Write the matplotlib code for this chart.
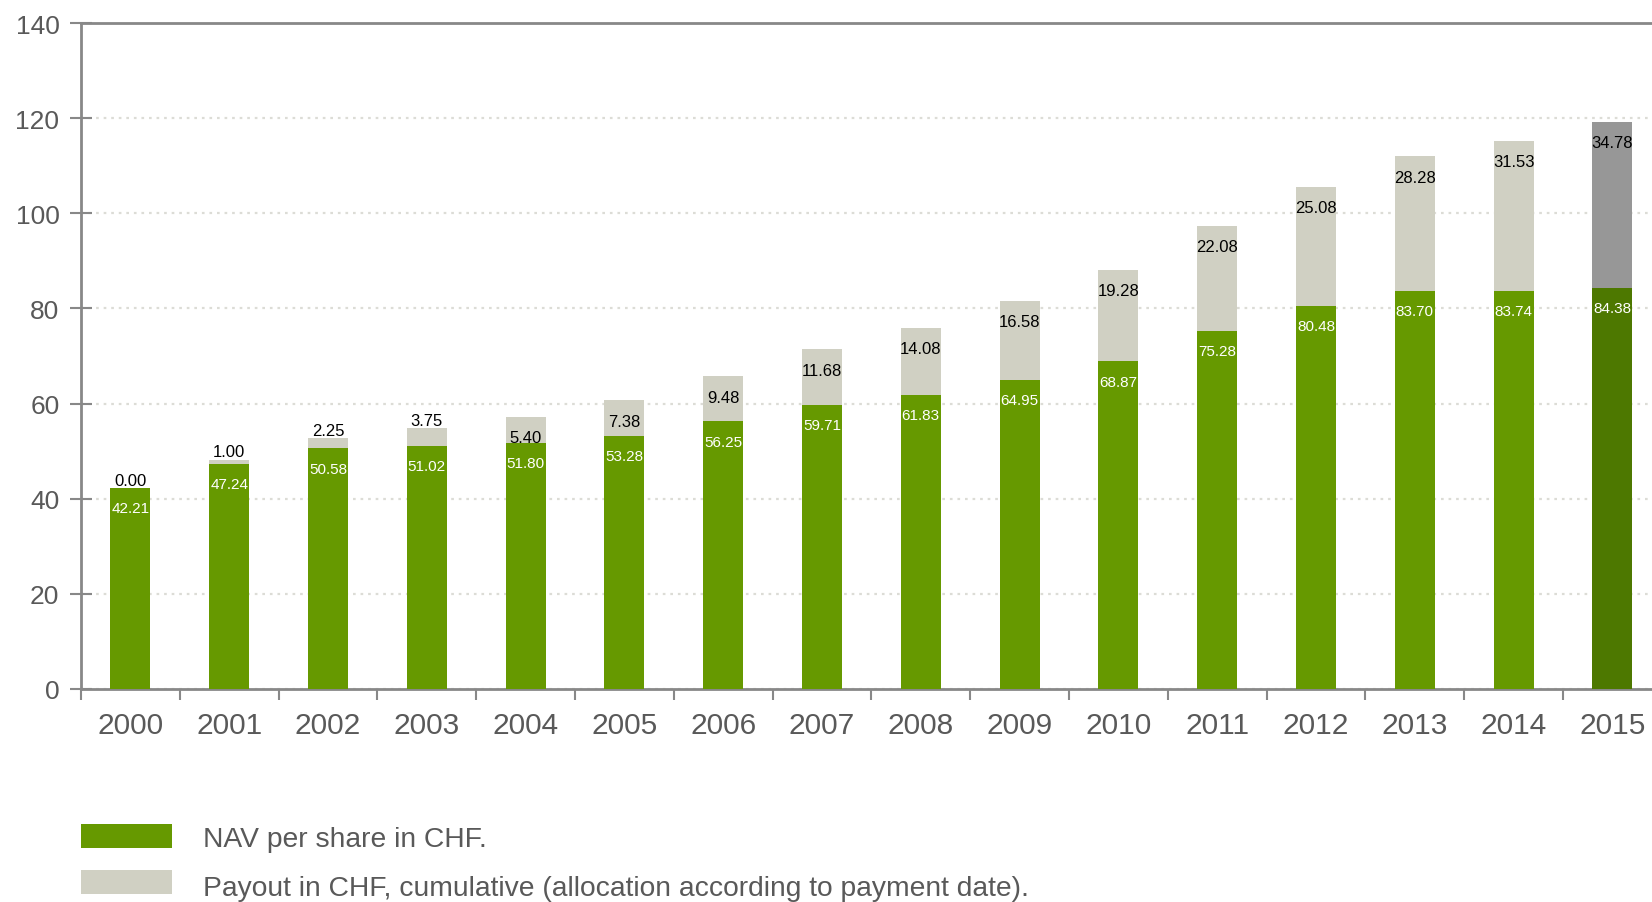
import matplotlib
matplotlib.use("Agg")
import matplotlib.pyplot as plt
from matplotlib.patches import Rectangle
import numpy as np

plt.rcParams['font.family'] = ['Liberation Sans', 'DejaVu Sans']

years = ["2000", "2001", "2002", "2003", "2004", "2005", "2006", "2007",
         "2008", "2009", "2010", "2011", "2012", "2013", "2014", "2015"]
nav = [42.21, 47.24, 50.58, 51.02, 51.80, 53.28, 56.25, 59.71,
       61.83, 64.95, 68.87, 75.28, 80.48, 83.70, 83.74, 84.38]
payout = [0.00, 1.00, 2.25, 3.75, 5.40, 7.38, 9.48, 11.68,
          14.08, 16.58, 19.28, 22.08, 25.08, 28.28, 31.53, 34.78]
y_ticks = [0, 20, 40, 60, 80, 100, 120, 140]
legend_labels = ["NAV per share in CHF.",
                 "Payout in CHF, cumulative (allocation according to payment date)."]

GREEN = "#669900"
GREEN_LAST = "#4d7800"
PAYOUT = "#d0d0c3"
PAYOUT_LAST = "#979797"
AXIS = "#888888"
TEXT = "#595959"

W, H = 1652, 903
fig = plt.figure(figsize=(W / 100, H / 100), dpi=100)
ax = fig.add_axes([81 / W, 1 - 690 / H, 1 - 81 / W, (690 - 24) / H])

x = np.arange(len(years))
nav_colors = [GREEN] * (len(years) - 1) + [GREEN_LAST]
pay_colors = [PAYOUT] * (len(years) - 1) + [PAYOUT_LAST]
bw = 0.405
ax.bar(x, nav, width=bw, color=nav_colors, zorder=3, linewidth=0)
ax.bar(x, payout, bottom=nav, width=bw, color=pay_colors, zorder=3, linewidth=0)

# value labels
for xi, n, p in zip(x, nav, payout):
    ax.annotate(f"{n:.2f}", (xi, n), xytext=(0, -14.5), textcoords="offset points",
                ha="center", va="center", color="white", fontsize=11, zorder=5)
    top = n + p
    if p < 5:
        ax.annotate(f"{p:.2f}", (xi, top), xytext=(0, 5.5), textcoords="offset points",
                    ha="center", va="center", color="black", fontsize=12, zorder=5)
    else:
        ax.annotate(f"{p:.2f}", (xi, top), xytext=(0, -15), textcoords="offset points",
                    ha="center", va="center", color="black", fontsize=12, zorder=5)

ax.set_ylim(0, 140)
ax.set_xlim(-0.5, -0.5 + (W - 81) / 98.8)
ax.set_yticks(y_ticks)
ax.set_xticks(x)
ax.set_xticklabels(years)
ax.set_xticks(np.arange(len(years)) - 0.5, minor=True)

ax.tick_params(axis="x", which="major", length=0, pad=16, labelsize=21.5, labelcolor=TEXT)
ax.tick_params(axis="x", which="minor", length=8, width=1.5, color=AXIS, direction="out")
ax.tick_params(axis="y", length=16, width=1.5, color=AXIS, direction="inout",
               pad=7.5, labelsize=19, labelcolor=TEXT)

for side in ["left", "bottom", "top"]:
    ax.spines[side].set_color(AXIS)
    ax.spines[side].set_linewidth(2)
ax.spines["right"].set_visible(False)

ax.yaxis.grid(True, linestyle=(0, (1.2, 2.2)), color="#dcdcd6", linewidth=1.6, zorder=0)
ax.set_axisbelow(True)

# legend
rect_tops = [825, 871]
text_baselines = [847, 896]
for lab, col, rt, tb in zip(legend_labels, [GREEN, PAYOUT], rect_tops, text_baselines):
    fig.add_artist(Rectangle((81 / W, 1 - (rt + 24) / H), 91 / W, 24 / H,
                             transform=fig.transFigure, color=col, linewidth=0))
    fig.text(203 / W, 1 - tb / H, lab, ha="left", va="baseline",
             fontsize=20.3, color=TEXT)

fig.savefig("out.png", dpi=100)
